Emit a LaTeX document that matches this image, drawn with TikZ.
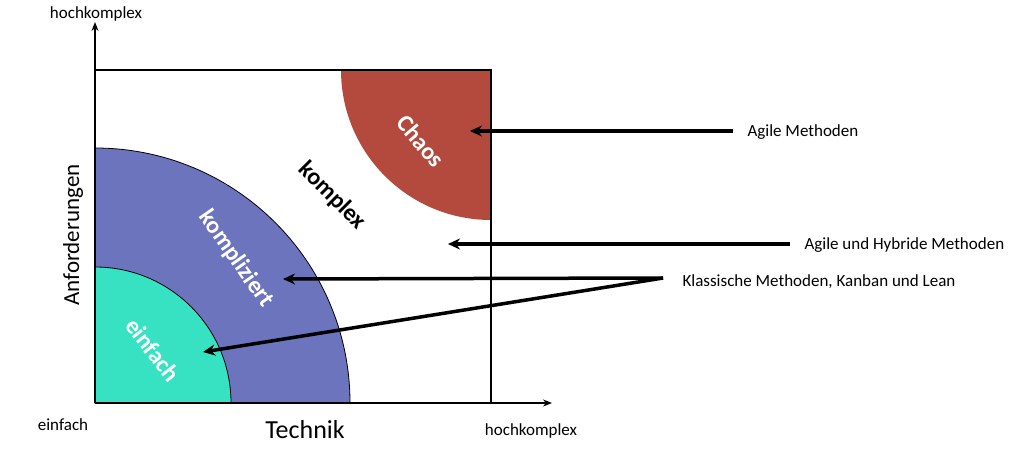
\documentclass[tikz,border=0pt]{standalone}
\usepackage{fontspec}
\setmainfont{Carlito}
\usetikzlibrary{arrows.meta}
\definecolor{teal1}{HTML}{36E2C2}
\definecolor{blue1}{HTML}{6C74BE}
\definecolor{red1}{HTML}{B44A3E}
\begin{document}
\begin{tikzpicture}[x=1pt,y=1pt,
  ax/.style={line width=1.3pt,-{Stealth[length=9pt,width=7pt]}},
  pt/.style={line width=3.5pt,-{Stealth[length=12pt,width=11pt]}},
  lab/.style={font=\fontsize{17}{19}\selectfont,anchor=west},
  wl/.style={text=white,font=\bfseries\fontsize{24}{26}\selectfont}]
\useasboundingbox (0,0) rectangle (1024,464);
\coordinate (O) at (95,61);
\fill[blue1,draw=black,line width=0.8pt] (95,61) -- (95,316) arc[start angle=90,end angle=0,radius=255] -- cycle;
\fill[teal1,draw=black,line width=0.8pt] (95,61) -- (95,197) arc[start angle=90,end angle=0,radius=136] -- cycle;
\fill[red1] (491,394) -- (341,394) arc[start angle=180,end angle=270,radius=150] -- cycle;
\draw[line width=1.6pt] (95,394) -- (491,394) -- (491,61);
\coordinate (yt) at (95,442);
\coordinate (xt) at (552,61);
\draw[ax] (O) -- (yt);
\draw[ax] (O) -- (xt);
\node[lab,anchor=center] (hk1) at (96,450) {hochkomplex};
\node[lab,anchor=center] (ef) at (63,39) {einfach};
\node[lab,anchor=center] (hk2) at (531,33) {hochkomplex};
\node[font=\fontsize{26}{28}\selectfont] (tech) at (305,34) {Technik};
\node[font=\fontsize{23}{25}\selectfont,rotate=90] (anf) at (73,229) {Anforderungen};
\node[wl,rotate=-50] (chaos) at (421,323) {Chaos};
\node[font=\bfseries\fontsize{24}{26}\selectfont,rotate=-45] (kx) at (332,268) {komplex};
\node[wl,rotate=-55] (kz) at (236,205) {kompliziert};
\node[wl,rotate=-52] (ei) at (153,114) {einfach};
\node[lab] (l1) at (744,332) {Agile Methoden};
\node[lab] (l2) at (801,219) {Agile und Hybride Methoden};
\node[lab] (l3) at (679,182) {Klassische Methoden, Kanban und Lean};
\coordinate (a1) at (470,333);
\coordinate (a2) at (448,220);
\coordinate (a3) at (283,185);
\coordinate (a4) at (203,112);
\coordinate (s1) at (733,333);
\coordinate (s2) at (790,220);
\coordinate (s3) at (663,186);
\draw[pt] (s1) -- (a1);
\draw[pt] (s2) -- (a2);
\draw[pt] (s3) -- (a3);
\draw[pt] (s3) -- (a4);
\end{tikzpicture}
\end{document}
